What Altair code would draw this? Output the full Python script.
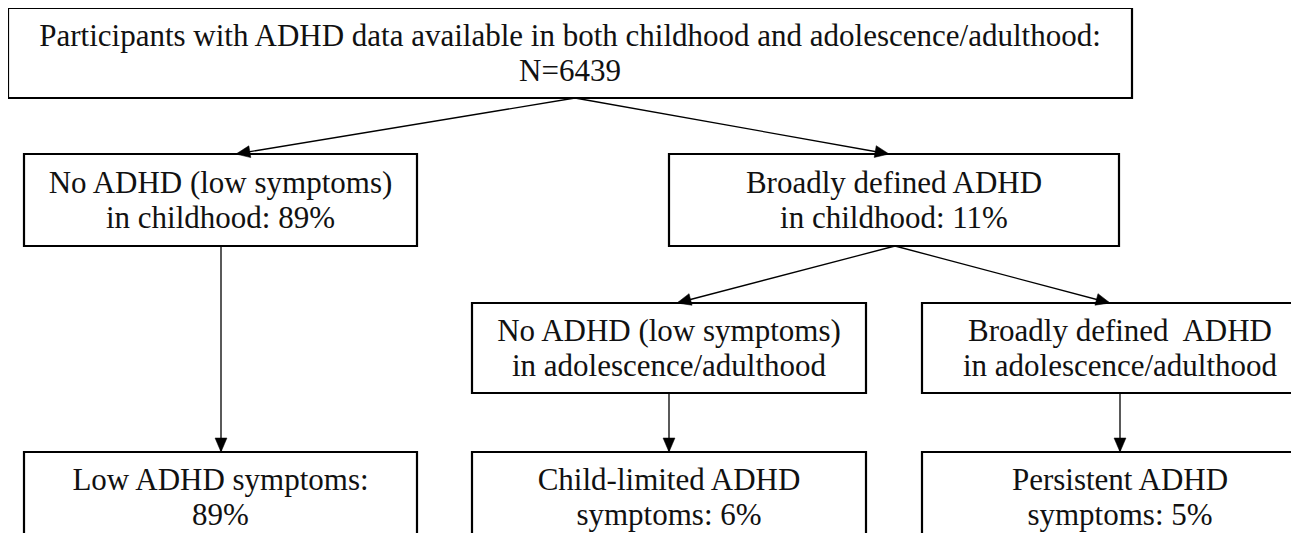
import altair as alt
import pandas as pd
import numpy as np

# ---- flowchart nodes (page pixel layout) ----
node_id = ["all", "no_child", "adhd_child", "no_adol", "adhd_adol", "low", "limited", "persist"]
node_x1 = [8, 24, 669, 472, 922, 24, 472, 922]
node_x2 = [1132, 417, 1119, 866, 1318, 417, 866, 1318]
node_y1 = [8, 154, 154, 303, 303, 452, 452, 452]
node_y2 = [98, 246, 246, 393, 393, 570, 570, 570]
node_line1 = [
    "Participants with ADHD data available in both childhood and adolescence/adulthood:",
    "No ADHD (low symptoms)",
    "Broadly defined ADHD",
    "No ADHD (low symptoms)",
    "Broadly defined\u00a0 ADHD",
    "Low ADHD symptoms:",
    "Child-limited ADHD",
    "Persistent ADHD",
]
node_line2 = [
    "N=6439",
    "in childhood: 89%",
    "in childhood: 11%",
    "in adolescence/adulthood",
    "in adolescence/adulthood",
    "89%",
    "symptoms: 6%",
    "symptoms: 5%",
]
node_text_y1 = [37, 184, 184, 332, 332, 481, 481, 481]
node_text_y2 = [72, 219, 219, 367, 367, 516, 516, 516]

# ---- edges ----
edge_x1 = [575, 575, 895, 895, 221, 669, 1120]
edge_y1 = [98, 98, 246, 246, 246, 393, 393]
edge_x2 = [236, 889, 677, 1110, 221, 669, 1120]
edge_y2 = [154, 154, 303, 303, 452, 452, 452]

nodes = pd.DataFrame({"id": node_id, "x1": node_x1, "x2": node_x2, "y1": node_y1, "y2": node_y2})
nodes["cx"] = (nodes["x1"] + nodes["x2"]) / 2
nodes.loc[nodes["id"].isin(["adhd_adol", "persist"]), "cx"] = 1120
texts = pd.concat([
    pd.DataFrame({"x": nodes["cx"], "y": node_text_y1, "t": node_line1}),
    pd.DataFrame({"x": nodes["cx"], "y": node_text_y2, "t": node_line2}),
], ignore_index=True)

edges = pd.DataFrame({"x1": edge_x1, "y1": edge_y1, "x2": edge_x2, "y2": edge_y2})
dx = edges["x2"] - edges["x1"]
dy = edges["y2"] - edges["y1"]
edges["angle"] = np.mod(np.degrees(np.arctan2(-dx, dy)), 360)

W, H = 1283, 525
xs = alt.Scale(domain=[8, 8 + W], nice=False, zero=False)
ys = alt.Scale(domain=[8, 8 + H], nice=False, zero=False, reverse=True)

boxes = alt.Chart(nodes).mark_rect(fill="white", stroke="black", strokeWidth=2.2, clip=True).encode(
    x=alt.X("x1:Q", scale=xs, axis=None),
    x2="x2:Q",
    y=alt.Y("y1:Q", scale=ys, axis=None),
    y2="y2:Q",
)

lines = alt.Chart(edges).mark_rule(color="black", strokeWidth=1.3).encode(
    x=alt.X("x1:Q", scale=xs, axis=None),
    x2="x2:Q",
    y=alt.Y("y1:Q", scale=ys, axis=None),
    y2="y2:Q",
)

heads = alt.Chart(edges).mark_point(
    shape="M0,0L-0.85,-2L0.85,-2Z", filled=True, fill="black", stroke="black",
    strokeWidth=0.5, opacity=1, size=196,
).encode(
    x=alt.X("x2:Q", scale=xs, axis=None),
    y=alt.Y("y2:Q", scale=ys, axis=None),
    angle=alt.Angle("angle:Q", scale=None),
)

labels = alt.Chart(texts).mark_text(
    font="Liberation Serif", fontSize=31, align="center", baseline="middle", color="#111111"
).encode(
    x=alt.X("x:Q", scale=xs, axis=None),
    y=alt.Y("y:Q", scale=ys, axis=None),
    text="t:N",
)

chart = alt.layer(lines, boxes, heads, labels).properties(
    width=W, height=H, padding=0,
    autosize=alt.AutoSizeParams(type="none"),
    background="white",
).configure_view(strokeWidth=0)

chart.save("out.html", embed_options={"renderer": "svg", "actions": False})
